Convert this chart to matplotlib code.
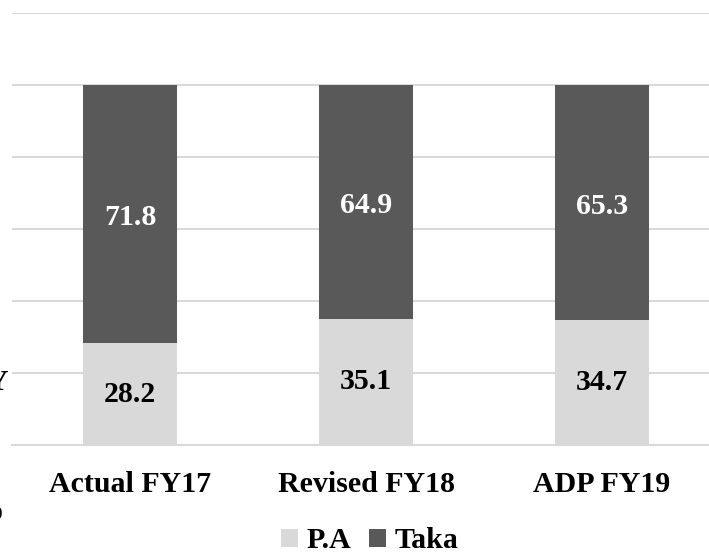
import numpy as np
import matplotlib
matplotlib.use("Agg")
import matplotlib.pyplot as plt
from matplotlib.patches import Patch

# data
categories = ["Actual FY17", "Revised FY18", "ADP FY19"]
pa_share = [28.2, 35.1, 34.7]
taka_share = [71.8, 64.9, 65.3]

pa_color = "#D9D9D9"
taka_color = "#595959"
grid_color = "#D9D9D9"
font = "Liberation Serif"

fig = plt.figure(figsize=(7.09, 5.53), dpi=100)
ax = fig.add_axes([12 / 709, 1 - 445 / 553, 708 / 709, 432 / 553])

x = np.arange(len(categories))
width = 0.4
ax.bar(x, pa_share, width, color=pa_color, zorder=2)
ax.bar(x, taka_share, width, bottom=pa_share, color=taka_color, zorder=2)

# value labels in the middle of each segment
for i in range(len(categories)):
    ax.text(x[i], pa_share[i] / 2, f"{pa_share[i]:.1f}", ha="center", va="center",
            fontsize=21.5, fontweight="bold", family=font, color="black", zorder=3)
    ax.text(x[i], pa_share[i] + taka_share[i] / 2 - 1, f"{taka_share[i]:.1f}",
            ha="center", va="center", fontsize=21.5, fontweight="bold",
            family=font, color="white", zorder=3)

ax.set_xlim(-0.5, 2.5)
ax.set_ylim(0, 120)
ax.set_yticks(np.arange(0, 121, 20))
ax.yaxis.grid(True, color=grid_color, linewidth=1.5, zorder=0)
ax.tick_params(axis="y", left=False, labelleft=False)
ax.tick_params(axis="x", bottom=False, pad=15.5)
ax.set_xticks(x)
ax.set_xticklabels(categories, fontsize=21.5, fontweight="bold", family=font)
for s in ["top", "right", "left"]:
    ax.spines[s].set_visible(False)
ax.spines["bottom"].set_color(grid_color)
ax.spines["bottom"].set_linewidth(1.5)

handles = [Patch(facecolor=pa_color, label="P.A"),
           Patch(facecolor=taka_color, label="Taka")]
fig.legend(handles=handles, loc="center", bbox_to_anchor=(370 / 709, 1 - 541 / 553),
           ncol=2, frameon=False, handlelength=0.55, handleheight=0.55,
           handletextpad=0.3, columnspacing=0.6,
           prop={"family": font, "weight": "bold", "size": 21.5})

# fragments of text cut off at the left edge
fig.text(8 / 709, 1 - 383 / 553, "Y", ha="right", va="center",
         fontsize=21.5, fontweight="bold", family=font)
fig.text(3 / 709, 1 - 513 / 553, "o", ha="right", va="center",
         fontsize=21.5, fontweight="bold", family=font)

fig.savefig("out.png", dpi=100)
